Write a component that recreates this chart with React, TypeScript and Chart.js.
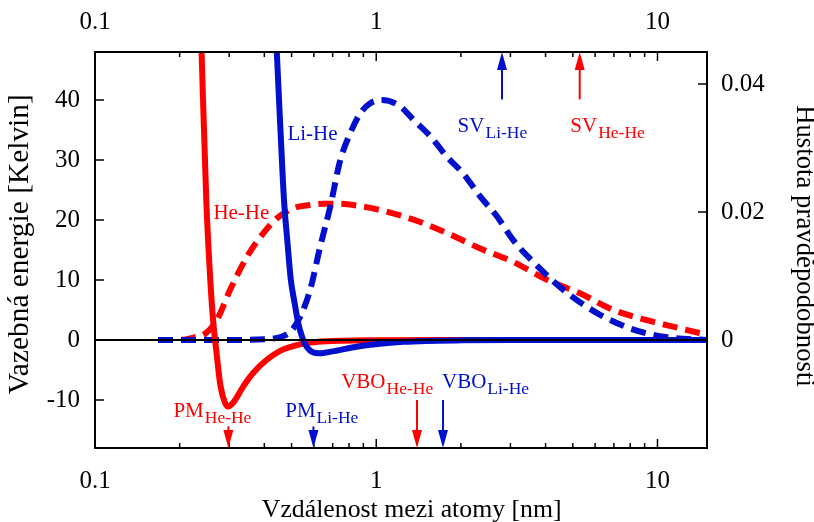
import React, { useEffect, useRef } from 'react';
import { Chart, registerables } from 'chart.js';

Chart.register(...registerables);

// Interatomic distance r [nm] and binding energy V [K] (left axis)
const heHeR = [0.235, 0.2393, 0.2487, 0.257, 0.263, 0.271, 0.279, 0.29, 0.297, 0.305, 0.315, 0.336, 0.365, 0.408, 0.455, 0.5, 0.55, 0.62, 0.75, 1.0, 2.0, 15];
const heHeV = [60, 48, 23.3, 10, 3.3, -2.5, -7.5, -10.5, -11.1, -10.8, -10, -7.8, -5.5, -3.3, -1.8, -1.1, -0.6, -0.3, -0.12, -0.04, 0, 0];

const liHeR = [0.433, 0.443, 0.456, 0.47, 0.483, 0.497, 0.512, 0.528, 0.545, 0.56, 0.58, 0.6, 0.625, 0.66, 0.72, 0.83, 0.95, 1.1, 1.25, 1.5, 2, 3, 15];
const liHeV = [60, 48, 35.5, 23.3, 16.5, 10, 6.3, 2.8, 0.5, -0.8, -1.7, -2.1, -2.2, -2.1, -1.8, -1.2, -0.8, -0.5, -0.3, -0.15, -0.06, -0.01, 0];

// Probability densities (right axis)
const heHeDensR = [0.1675, 0.19, 0.21, 0.225, 0.245, 0.271, 0.302, 0.347, 0.397, 0.443, 0.508, 0.58, 0.65, 0.72, 0.85, 1.033, 1.357, 1.786, 2.345, 3.07, 4.05, 5.3, 6.97, 9.17, 12.1, 15];
const heHeDens = [0, 0, 0.0001, 0.0004, 0.0009, 0.0031, 0.0078, 0.013, 0.0167, 0.019, 0.0206, 0.0211, 0.0213, 0.0213, 0.021, 0.0203, 0.0188, 0.0167, 0.0143, 0.0122, 0.0094, 0.0073, 0.0047, 0.0031, 0.0018, 0.0008];

const liHeDensR = [0.1675, 0.3, 0.4, 0.44, 0.467, 0.5, 0.536, 0.582, 0.632, 0.686, 0.745, 0.808, 0.877, 0.952, 1.05, 1.217, 1.357, 1.56, 1.786, 2.04, 2.345, 2.69, 3.07, 3.62, 4.64, 6.1, 8.01, 10.5, 15];
const liHeDens = [0, 0, 0.0001, 0.0003, 0.0006, 0.0015, 0.0036, 0.0078, 0.0146, 0.0208, 0.0281, 0.0323, 0.0354, 0.037, 0.0375, 0.0365, 0.0344, 0.0318, 0.0286, 0.026, 0.0224, 0.0193, 0.0156, 0.0122, 0.0078, 0.0042, 0.0018, 0.0005, 0];

// Ticks
const xMajorTicks = [0.1, 1, 10];
const xTickLabels = ['0.1', '1', '10'];
const xMinorTicks = [0.2, 0.3, 0.4, 0.5, 0.6, 0.7, 0.8, 0.9, 2, 3, 4, 5, 6, 7, 8, 9];
const yTicks = [-10, 0, 10, 20, 30, 40];
const y2Ticks = [0, 0.02, 0.04];
const y2TickLabels = ['0', '0.02', '0.04'];

const RED = '#ff0000';
const BLUE = '#0010cc';
const FONT = '"Liberation Serif", "Times New Roman", serif';

// Text labels (main text + subscript) anchored in data coordinates
const labels = [
  { text: 'Li-He', sub: '', r: 0.4833, v: 33.3, color: BLUE },
  { text: 'He-He', sub: '', r: 0.2636, v: 20.2, color: RED },
  { text: 'SV', sub: 'Li-He', r: 1.947, v: 34.7, color: BLUE },
  { text: 'SV', sub: 'He-He', r: 4.9, v: 34.7, color: RED },
  { text: 'PM', sub: 'He-He', r: 0.19, v: -12.9, color: RED },
  { text: 'PM', sub: 'Li-He', r: 0.4746, v: -12.9, color: BLUE },
  { text: 'VBO', sub: 'He-He', r: 0.7506, v: -8.05, color: RED },
  { text: 'VBO', sub: 'Li-He', r: 1.713, v: -8.05, color: BLUE },
];

// Marker arrows: distance, start and end value (left axis)
const arrows = [
  { r: 2.8, from: 40.1, to: 48, color: BLUE },
  { r: 5.29, from: 40.1, to: 48, color: RED },
  { r: 0.298, from: -14.4, to: -18, color: RED },
  { r: 0.598, from: -14.4, to: -18, color: BLUE },
  { r: 1.396, from: -10, to: -18, color: RED },
  { r: 1.727, from: -10, to: -18, color: BLUE },
];

const titles = {
  bottom: 'Vzdálenost mezi atomy [nm]',
  left: 'Vazebná energie [Kelvin]',
  right: 'Hustota pravděpodobnosti',
};

const pts = (xs: number[], ys: number[]) => xs.map((x, i) => ({ x, y: ys[i] }));

const decor = {
  id: 'decor',
  afterDatasetsDraw(chart: any) {
    const { ctx, chartArea: a, scales } = chart;
    const sx = scales.x, sy = scales.y, sy2 = scales.y2;
    ctx.save();
    const line = (x1: number, y1: number, x2: number, y2: number) => {
      ctx.beginPath(); ctx.moveTo(x1, y1); ctx.lineTo(x2, y2); ctx.stroke();
    };
    ctx.strokeStyle = '#000';
    ctx.lineWidth = 2;
    const y0 = sy.getPixelForValue(0);
    line(a.left, y0, a.right, y0);
    ctx.strokeRect(a.left, a.top, a.right - a.left, a.bottom - a.top);
    ctx.lineWidth = 1.5;
    const tickX = (v: number, len: number) => {
      const px = sx.getPixelForValue(v);
      line(px, a.bottom, px, a.bottom - len);
      line(px, a.top, px, a.top + len);
    };
    xMajorTicks.forEach((v) => tickX(v, 9));
    xMinorTicks.forEach((v) => tickX(v, 5));
    yTicks.forEach((v) => { const py = sy.getPixelForValue(v); line(a.left, py, a.left + 9, py); });
    y2Ticks.forEach((v) => { const py = sy2.getPixelForValue(v); line(a.right, py, a.right - 9, py); });

    arrows.forEach((ar) => {
      const ax = sx.getPixelForValue(ar.r);
      const yf = sy.getPixelForValue(ar.from);
      const yt = sy.getPixelForValue(ar.to);
      const dir = Math.sign(yt - yf);
      const head = 18, hw = 5;
      ctx.strokeStyle = ar.color; ctx.fillStyle = ar.color; ctx.lineWidth = 2;
      line(ax, yf, ax, yt - dir * head);
      ctx.beginPath();
      ctx.moveTo(ax, yt);
      ctx.lineTo(ax - hw, yt - dir * head);
      ctx.lineTo(ax + hw, yt - dir * head);
      ctx.closePath();
      ctx.fill();
    });

    ctx.textAlign = 'left';
    ctx.textBaseline = 'alphabetic';
    labels.forEach((l) => {
      const px = sx.getPixelForValue(l.r);
      const py = sy.getPixelForValue(l.v);
      ctx.fillStyle = l.color;
      ctx.font = `21px ${FONT}`;
      ctx.fillText(l.text, px, py);
      if (l.sub) {
        const w = ctx.measureText(l.text).width;
        ctx.font = `17.5px ${FONT}`;
        ctx.fillText(l.sub, px + w + 1, py + 6);
      }
    });
    ctx.restore();
  },
  afterDraw(chart: any) {
    const { ctx } = chart;
    ctx.save();
    ctx.fillStyle = '#000';
    ctx.textAlign = 'center';
    ctx.textBaseline = 'alphabetic';
    const fit = (text: string, target: number) => {
      ctx.font = `25px ${FONT}`;
      const w = ctx.measureText(text).width;
      ctx.font = `${(25 * target) / w}px ${FONT}`;
    };
    fit(titles.bottom, 300);
    ctx.fillText(titles.bottom, 411.7, 516.7);
    ctx.save();
    ctx.translate(28.3, 244.2);
    ctx.rotate(-Math.PI / 2);
    fit(titles.left, 300);
    ctx.fillText(titles.left, 0, 0);
    ctx.restore();
    ctx.save();
    ctx.translate(796.7, 246);
    ctx.rotate(Math.PI / 2);
    fit(titles.right, 282);
    ctx.fillText(titles.right, 0, 0);
    ctx.restore();
    ctx.restore();
  },
};

const tickFont = { family: FONT, size: 25 };

export default function App() {
  const ref = useRef<HTMLCanvasElement | null>(null);
  useEffect(() => {
    if (!ref.current) return;
    const common = {
      borderJoinStyle: 'round' as const,
      pointRadius: 0,
      cubicInterpolationMode: 'monotone' as const,
      fill: false,
    };
    const chart = new Chart(ref.current, {
      type: 'line',
      data: {
        datasets: [
          { ...common, label: 'Li-He potenciál', data: pts(liHeR, liHeV), xAxisID: 'x', yAxisID: 'y', borderColor: BLUE, borderWidth: 6, order: 1 },
          { ...common, label: 'He-He potenciál', data: pts(heHeR, heHeV), xAxisID: 'x', yAxisID: 'y', borderColor: RED, borderWidth: 6, order: 2 },
          { ...common, label: 'Li-He hustota', data: pts(liHeDensR, liHeDens), xAxisID: 'x', yAxisID: 'y2', borderColor: BLUE, borderWidth: 6, borderDash: [15, 8], order: 3 },
          { ...common, label: 'He-He hustota', data: pts(heHeDensR, heHeDens), xAxisID: 'x', yAxisID: 'y2', borderColor: RED, borderWidth: 6, borderDash: [15, 8], order: 4 },
        ],
      },
      options: {
        responsive: true,
        maintainAspectRatio: false,
        animation: false,
        events: [],
        layout: { padding: 0 },
        plugins: { legend: { display: false }, tooltip: { enabled: false } },
        scales: {
          x: {
            type: 'logarithmic', position: 'bottom', min: 0.1, max: 15,
            grid: { display: false, drawTicks: false }, border: { display: false },
            afterBuildTicks: (s: any) => { s.ticks = xMajorTicks.map((v) => ({ value: v })); },
            ticks: { font: tickFont, color: '#000', padding: 18, autoSkip: false, maxRotation: 0, callback: (_v: any, i: number) => xTickLabels[i] },
            afterFit: (s: any) => { s.height = 74; },
          },
          x2: {
            type: 'logarithmic', position: 'top', min: 0.1, max: 15,
            grid: { display: false, drawTicks: false }, border: { display: false },
            afterBuildTicks: (s: any) => { s.ticks = xMajorTicks.map((v) => ({ value: v })); },
            ticks: { font: tickFont, color: '#000', padding: 15, autoSkip: false, maxRotation: 0, callback: (_v: any, i: number) => xTickLabels[i] },
            afterFit: (s: any) => { s.height = 52; },
          },
          y: {
            type: 'linear', position: 'left', min: -18, max: 48,
            grid: { display: false, drawTicks: false }, border: { display: false },
            afterBuildTicks: (s: any) => { s.ticks = yTicks.map((v) => ({ value: v })); },
            ticks: { font: tickFont, color: '#000', padding: 15, callback: (v: any) => String(v) },
            afterFit: (s: any) => { s.width = 95; },
          },
          y2: {
            type: 'linear', position: 'right', min: -0.016875, max: 0.045,
            grid: { display: false, drawTicks: false }, border: { display: false },
            afterBuildTicks: (s: any) => { s.ticks = y2Ticks.map((v) => ({ value: v })); },
            ticks: { font: tickFont, color: '#000', padding: 14, callback: (_v: any, i: number) => y2TickLabels[i] },
            afterFit: (s: any) => { s.width = 107; },
          },
        },
      },
      plugins: [decor],
    } as any);
    return () => chart.destroy();
  }, []);
  return (
    <div style={{ position: 'fixed', left: 0, top: 0, width: 814, height: 522, background: '#fff' }}>
      <canvas ref={ref} />
    </div>
  );
}
